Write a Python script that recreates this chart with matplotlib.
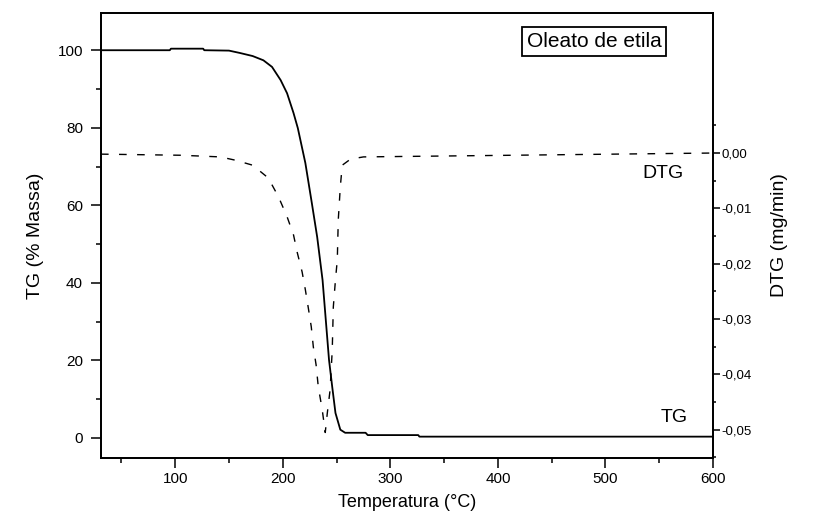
import matplotlib
matplotlib.use('Agg')
import matplotlib.pyplot as plt
from matplotlib.ticker import FixedLocator, FuncFormatter

plt.rcParams['font.family'] = ['Liberation Sans', 'DejaVu Sans']

# TG curve (% massa) vs temperatura
TEMP_TG = [31, 95, 96, 126, 127, 150, 160, 172, 182, 190, 198, 204, 210, 214,
           221, 227, 232, 237, 240, 243, 246, 249, 253.5, 258, 277, 279, 326, 327, 600]
TG = [100, 100, 100.4, 100.4, 100, 99.9, 99.3, 98.5, 97.4, 95.7, 92.3, 88.9, 83.8, 79.9,
      70.9, 60.6, 51.8, 40.7, 30.4, 20.1, 13.1, 6.4, 2.1, 1.3, 1.3, 0.7, 0.7, 0.3, 0.3]

# DTG curve (mg/min)
TEMP_DTG = [31, 105, 142, 156, 172, 186.5, 196, 204, 210, 213.5, 218, 221, 224, 226.5,
            228.4, 231, 233, 236.7, 239.5, 241.4, 244, 246, 247, 249, 250.7, 251.6,
            253.5, 255.3, 263, 275, 600]
DTG = [-0.0002, -0.0004, -0.0007, -0.0013, -0.0022, -0.0045, -0.0079, -0.0115, -0.0148,
       -0.018, -0.0215, -0.0247, -0.0283, -0.0314, -0.035, -0.0383, -0.0422, -0.0464,
       -0.0505, -0.047, -0.0428, -0.0356, -0.0278, -0.0229, -0.0193, -0.0121, -0.0061,
       -0.0022, -0.0011, -0.0007, 0.0]

X_MAJOR = [100, 200, 300, 400, 500, 600]
X_MINOR = [50, 150, 250, 350, 450, 550]
Y_MAJOR = [0, 20, 40, 60, 80, 100]
Y_MINOR = [10, 30, 50, 70, 90]
Y2_MAJOR = [0.0, -0.01, -0.02, -0.03, -0.04, -0.05]
Y2_MINOR = [0.005, -0.005, -0.015, -0.025, -0.035, -0.045, -0.055]

fig = plt.figure(figsize=(8.19, 5.27), dpi=100)
ax = fig.add_axes([0.1233, 0.131, 0.7473, 0.8443])
ax2 = ax.twinx()

ax.plot(TEMP_TG, TG, color='black', lw=1.3)
ax2.plot(TEMP_DTG, DTG, color='black', lw=1.0, ls=(0, (5.5, 7.5)))

ax.set_xlim(31, 600)
ax.set_ylim(-5.2, 109.6)
ax2.set_ylim(-0.0551, 0.0253)

ax.xaxis.set_major_locator(FixedLocator(X_MAJOR))
ax.xaxis.set_minor_locator(FixedLocator(X_MINOR))
ax.yaxis.set_major_locator(FixedLocator(Y_MAJOR))
ax.yaxis.set_minor_locator(FixedLocator(Y_MINOR))
ax2.yaxis.set_major_locator(FixedLocator(Y2_MAJOR))
ax2.yaxis.set_minor_locator(FixedLocator(Y2_MINOR))
ax2.yaxis.set_major_formatter(FuncFormatter(lambda v, p: f"{v:.2f}".replace('.', ',').replace('-0,00', '0,00')))

ax.tick_params(axis='both', which='major', direction='out', length=7, width=1.1, labelsize=11, pad=3)
ax.tick_params(axis='y', which='major', pad=6)
ax.tick_params(axis='both', which='minor', direction='out', length=3.5, width=1.1)
ax2.tick_params(axis='y', which='major', direction='out', length=5, width=1.1, labelsize=9.5, pad=1)
ax2.tick_params(axis='y', which='minor', direction='out', length=2.5, width=1.1)

for a in (ax, ax2):
    for s in a.spines.values():
        s.set_linewidth(1.3)

ax.set_xlabel("Temperatura (°C)", fontsize=13, labelpad=6)
ax.set_ylabel("TG (% Massa)", fontsize=14, labelpad=10)
ax2.set_ylabel("DTG (mg/min)", fontsize=14, labelpad=14)

ax.text(0.806, 0.936, "Oleato de etila", transform=ax.transAxes, fontsize=15,
        ha='center', va='center',
        bbox=dict(boxstyle='square,pad=0.22', facecolor='white', edgecolor='black', lw=1.3))
ax.text(0.918, 0.640, "DTG", transform=ax.transAxes, fontsize=14, ha='center', va='center')
ax.text(0.936, 0.092, "TG", transform=ax.transAxes, fontsize=14, ha='center', va='center')

fig.savefig("out.png", dpi=100)
